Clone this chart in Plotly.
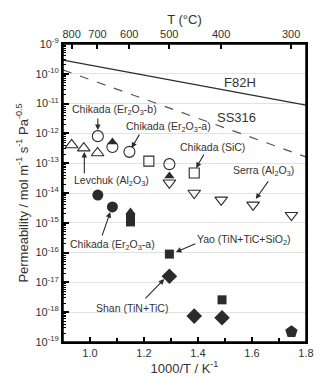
import plotly.graph_objects as go

# Reference steel lines (1000/T, permeability)
f82h_x = [0.9, 1.8]
f82h_y = [2.9e-10, 8.9e-12]
ss316_x = [0.9, 1.8]
ss316_y = [1.35e-10, 1.62e-13]

# Coating data points, grouped by marker style
levchuk_x = [0.932, 0.977, 1.028]
levchuk_y = [4.1e-13, 3.2e-13, 2.2e-13]

open_circle_x = [1.029, 1.083, 1.146, 1.294]
open_circle_y = [8.1e-13, 3.5e-13, 2.4e-13, 9.3e-14]

open_square_x = [1.218, 1.386]
open_square_y = [1.17e-13, 4.7e-14]

serra_x = [1.294, 1.386, 1.486, 1.604, 1.746]
serra_y = [2.2e-14, 1.0e-14, 5.9e-15, 4.0e-15, 1.8e-15]

filled_tri_x = [1.083, 1.294, 1.15]
filled_tri_y = [5.1e-13, 3.7e-14, 2.3e-15]

filled_circle_x = [1.029, 1.083]
filled_circle_y = [8.5e-15, 3.4e-15]

filled_square_x = [1.15, 1.15, 1.294, 1.489]
filled_square_y = [1.45e-15, 1.07e-15, 8.9e-17, 2.6e-18]

shan_x = [1.294, 1.386, 1.489]
shan_y = [1.6e-17, 7.4e-19, 6.5e-19]

pentagon_x = [1.746]
pentagon_y = [2.2e-19]

# Axis ticks
y_exponents = list(range(-19, -8))
x_ticks = [1.0, 1.2, 1.4, 1.6, 1.8]
temps_c = [800, 700, 600, 500, 400, 300]

INK = "#2b2b2b"
FONT = "Arial, Liberation Sans, sans-serif"

fig = go.Figure()

fig.add_trace(go.Scatter(x=f82h_x, y=f82h_y, mode="lines",
                         line=dict(color=INK, width=1.2)))
fig.add_trace(go.Scatter(x=ss316_x, y=ss316_y, mode="lines",
                         line=dict(color="#555555", width=1.2, dash="dash")))


def markers(x, y, symbol, size, width=1.1):
    fig.add_trace(go.Scatter(
        x=x, y=y, mode="markers",
        marker=dict(symbol=symbol, size=size, color=INK,
                    line=dict(color=INK, width=width)),
    ))


markers(levchuk_x, levchuk_y, "triangle-up-open", 11)
markers(open_circle_x, open_circle_y, "circle-open", 11)
markers(open_square_x, open_square_y, "square-open", 10)
markers(serra_x, serra_y, "triangle-down-open", 11)
markers(filled_tri_x, filled_tri_y, "triangle-up", 9, 0)
markers(filled_circle_x, filled_circle_y, "circle", 11, 0)
markers(filled_square_x, filled_square_y, "square", 9, 0)
markers(shan_x, shan_y, "diamond", 12, 0)
markers(pentagon_x, pentagon_y, "pentagon", 13, 0)

# Invisible trace that drives the top temperature axis
fig.add_trace(go.Scatter(x=[0.9, 1.8], y=[1e-19, 1e-19], xaxis="x2",
                         mode="markers", marker=dict(opacity=0),
                         hoverinfo="skip"))

# Labels: (text, x, log10 y, arrow tail x, tail log y, head x, head log y)
labels = [
    ("Chikada (Er<sub>2</sub>O<sub>3</sub>-b)", 1.089, -11.21, 1.029, -11.45, 1.029, -11.89),
    ("Chikada (Er<sub>2</sub>O<sub>3</sub>-a)", 1.289, -11.79, 1.186, -11.99, 1.154, -12.49),
    ("Chikada (SiC)", 1.454, -12.46, 1.425, -12.66, 1.393, -13.16),
    ("Serra (Al<sub>2</sub>O<sub>3</sub>)", 1.643, -13.26, 1.664, -13.56, 1.614, -14.2),
    ("Levchuk (Al<sub>2</sub>O<sub>3</sub>)", 1.079, -13.6, 0.979, -13.4, 0.979, -12.62),
    ("Chikada (Er<sub>2</sub>O<sub>3</sub>-a)", 1.082, -15.74, 1.043, -15.48, 1.075, -14.64),
    ("Yao (TiN+TiC+SiO<sub>2</sub>)", 1.571, -15.58, 1.396, -15.68, 1.318, -15.98),
    ("Shan (TiN+TiC)", 1.157, -17.86, 1.2, -17.59, 1.275, -16.89),
]

annotations = []
for text, tx, ty, ax, ay, hx, hy in labels:
    annotations.append(dict(x=tx, y=ty, xref="x", yref="y", text=text,
                            showarrow=False, font=dict(size=10.5, color="#333")))
    annotations.append(dict(x=hx, y=hy, ax=ax, ay=ay, xref="x", yref="y",
                            axref="x", ayref="y", text="", showarrow=True,
                            arrowhead=2, arrowsize=1, arrowwidth=1.1,
                            arrowcolor=INK))

annotations.append(dict(x=1.557, y=-10.28, xref="x", yref="y", text="F82H",
                        showarrow=False, font=dict(size=13, color="#333")))
annotations.append(dict(x=1.543, y=-11.45, xref="x", yref="y", text="SS316",
                        showarrow=False, font=dict(size=13, color="#333")))

fig.update_layout(
    width=320, height=379,
    margin=dict(l=63, r=6, t=44, b=37),
    paper_bgcolor="white", plot_bgcolor="white",
    showlegend=False,
    font=dict(family=FONT, color="#333", size=11),
    annotations=annotations,
    # plot frame
    shapes=[dict(type="rect", xref="paper", yref="paper", x0=0, x1=1, y0=0, y1=1,
                 line=dict(color="black", width=1.5), layer="above")],
    xaxis=dict(
        range=[0.9, 1.8], tickvals=x_ticks,
        ticktext=[f"{v:.1f}" for v in x_ticks],
        ticks="inside", ticklen=5, tickwidth=1.5, tickcolor="black",
        minor=dict(dtick=0.1, ticks="inside", ticklen=4, tickcolor="black", tickwidth=1.5),
        showline=True, linecolor="black", linewidth=2, mirror=False,
        showgrid=False, zeroline=False,
        title=dict(text="1000/T / K<sup>-1</sup>", font=dict(size=13), standoff=2),
    ),
    xaxis2=dict(
        overlaying="x", side="top", range=[0.9, 1.8],
        tickvals=[1000 / (t + 273.15) for t in temps_c],
        ticktext=[str(t) for t in temps_c],
        ticks="inside", ticklen=5, tickwidth=1.5, tickcolor="black",
        showline=True, linecolor="black", linewidth=1.5,
        showgrid=False, zeroline=False,
        title=dict(text="T (°C)", font=dict(size=13), standoff=0),
    ),
    yaxis=dict(
        type="log", range=[-19, -9],
        tickvals=[10.0 ** e for e in y_exponents],
        ticktext=[f"10<sup>{e}</sup>" for e in y_exponents],
        ticks="inside", ticklen=6, tickwidth=1.5, tickcolor="black",
        minor=dict(dtick="D1", ticks="inside", ticklen=3, tickcolor="black",
                   tickwidth=1, showgrid=False),
        showline=True, linecolor="black", linewidth=2, mirror=True,
        showgrid=True, gridcolor="#e2e2e2", gridwidth=1, zeroline=False,
        title=dict(text="Permeability / mol m<sup>-1</sup> s<sup>-1</sup> Pa<sup>-0.5</sup>",
                   font=dict(size=13), standoff=4),
    ),
)

fig.write_html("out.html")
